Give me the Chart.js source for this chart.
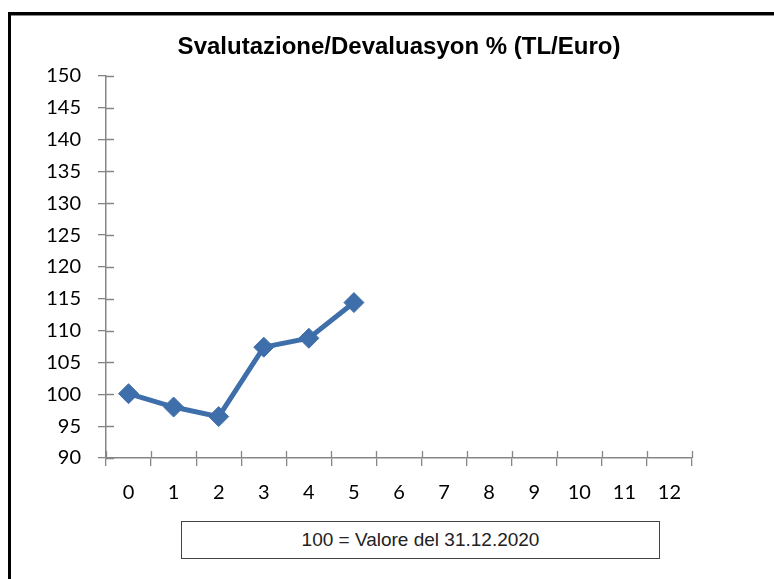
<!DOCTYPE html>
<html>
<head>
<meta charset="utf-8">
<script src="https://cdn.jsdelivr.net/npm/chart.js@4"></script>
<style>
html, body { margin: 0; padding: 0; background: #fff; }
#wrap { position: relative; width: 774px; height: 579px; overflow: hidden; }
#frame { position: absolute; left: 8px; top: 12px; width: 900px; height: 700px;
  border-top: 3px solid #000; border-left: 3px solid #000; box-shadow: 0 1px 0 #888 inset; }
#note { position: absolute; left: 181px; top: 521px; width: 477px; height: 36px;
  border: 1px solid #444; font: 19px "Liberation Sans", Arial, sans-serif; color: #222;
  text-align: center; line-height: 36px; background: #fff; }
canvas { position: absolute; left: 0; top: 0; }
</style>
</head>
<body>
<div id="wrap">
<div id="frame"></div>
<canvas id="chart" width="774" height="579"></canvas>
<div id="note">100 = Valore del 31.12.2020</div>
</div>
<script>
const title = "Svalutazione/Devaluasyon % (TL/Euro)";
const categories = ["0","1","2","3","4","5","6","7","8","9","10","11","12"];
const values = [100.1, 98.0, 96.5, 107.4, 108.8, 114.4];
const yMin = 90, yMax = 150, yStep = 5;

const axisColor = "#868686";
const lineColor = "#3F6FAA";

// inner half of the crossing tick marks
const innerTicks = {
  id: "innerTicks",
  afterDraw(chart){
    const ctx = chart.ctx;
    const x = chart.scales.x, y = chart.scales.y;
    const area = chart.chartArea;
    ctx.save();
    ctx.strokeStyle = axisColor;
    ctx.lineWidth = 1.3;
    ctx.beginPath();
    y.ticks.forEach((t,i)=>{
      const py = Math.round(y.getPixelForTick(i)) + 0.5;
      ctx.moveTo(area.left, py);
      ctx.lineTo(area.left + 8, py);
    });
    const n = x.ticks.length;
    const w = (x.getPixelForTick(1) - x.getPixelForTick(0));
    for(let i=0;i<=n;i++){
      const px = Math.round(x.getPixelForTick(0) - w/2 + i*w) + 0.5;
      ctx.moveTo(px, area.bottom);
      ctx.lineTo(px, area.bottom - 7);
    }
    ctx.stroke();
    ctx.restore();
  }
};

new Chart(document.getElementById("chart"), {
  type: "line",
  data: {
    labels: categories,
    datasets: [{
      data: values,
      borderColor: lineColor,
      backgroundColor: lineColor,
      borderWidth: 5,
      pointStyle: "rectRot",
      pointRadius: 10,
      pointBorderWidth: 1,
      tension: 0
    }]
  },
  options: {
    responsive: false,
    animation: false,
    layout: { padding: { left: 10, right: 82, top: 0, bottom: 0 } },
    plugins: {
      legend: { display: false },
      tooltip: { enabled: false },
      title: {
        display: true,
        fullSize: false,
        text: title,
        color: "#000",
        font: { family: "'Liberation Sans', Arial, sans-serif", size: 24, weight: "bold" },
        padding: { top: 33, bottom: 14 }
      }
    },
    scales: {
      x: {
        offset: true,
        afterFit(s){ s.height = 121; },
        grid: { offset: true, drawOnChartArea: false, color: axisColor, tickColor: axisColor, tickLength: 8, lineWidth: 1.3 },
        border: { color: axisColor, width: 1.5 },
        ticks: { color: "#000", padding: 15, maxRotation: 0, autoSkip: false,
          font: { family: "Lato, sans-serif", size: 20 } }
      },
      y: {
        min: yMin, max: yMax,
        afterFit(s){ s.width = 96; },
        grid: { drawOnChartArea: false, color: axisColor, tickColor: axisColor, tickLength: 8, lineWidth: 1.3 },
        border: { color: axisColor, width: 1.5 },
        ticks: { stepSize: yStep, color: "#000", padding: 17,
          font: { family: "Lato, sans-serif", size: 20 } }
      }
    }
  },
  plugins: [innerTicks]
});
</script>
</body>
</html>
